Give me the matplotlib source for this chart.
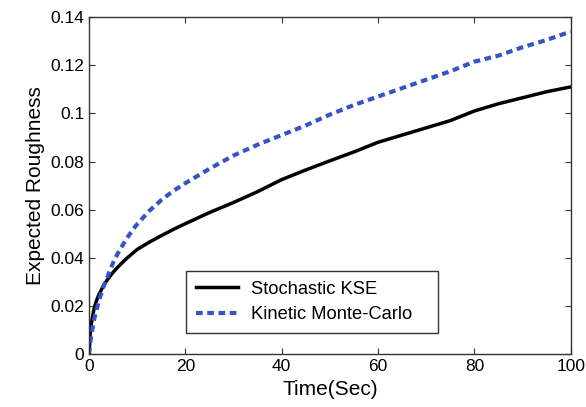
import matplotlib
matplotlib.use('Agg')
import matplotlib.pyplot as plt

# values
time = [0, 0.25, 0.5, 1, 1.5, 2, 3, 4, 5, 6, 7.5, 9, 10, 12.5, 15, 17.5, 20,
        25, 30, 35, 40, 45, 50, 55, 60, 65, 70, 75, 80, 85, 90, 95, 100]
kse = [0, 0.009, 0.013, 0.0185, 0.022, 0.0245, 0.0285, 0.0315, 0.034,
       0.0362, 0.0392, 0.0418, 0.0435, 0.0465, 0.0492, 0.0518, 0.0542,
       0.0588, 0.063, 0.0675, 0.0725, 0.0765, 0.0803, 0.084, 0.088, 0.091,
       0.094, 0.097, 0.101, 0.104, 0.1065, 0.109, 0.111]
kmc = [0, 0.005, 0.008, 0.014, 0.018, 0.022, 0.028, 0.033, 0.038, 0.042,
       0.047, 0.0515, 0.054, 0.0595, 0.064, 0.0678, 0.071, 0.077, 0.0825,
       0.087, 0.091, 0.095, 0.0995, 0.1035, 0.107, 0.1105, 0.114, 0.1175,
       0.1215, 0.124, 0.1275, 0.1305, 0.134]
xticks = [0, 20, 40, 60, 80, 100]
yticks = [0, 0.02, 0.04, 0.06, 0.08, 0.1, 0.12, 0.14]
ytick_labels = ['0', '0.02', '0.04', '0.06', '0.08', '0.1', '0.12', '0.14']

plt.rcParams['font.family'] = 'Liberation Sans'

fig = plt.figure(figsize=(5.86, 4.07), dpi=100)
ax = fig.add_axes([0.152, 0.130, 0.822, 0.828])

ax.plot(time, kse, color='black', lw=2.5, label='Stochastic KSE')
ax.plot(time, kmc, color='#3555c4', lw=3, linestyle=(0, (1.6, 1.1)),
        label='Kinetic Monte-Carlo')

ax.set_xlim(0, 100)
ax.set_ylim(0, 0.14)
ax.set_xticks(xticks)
ax.set_yticks(yticks)
ax.set_yticklabels(ytick_labels)
ax.tick_params(direction='in', top=True, right=True, labelsize=12.5, length=4,
               color='#333333')
for s in ax.spines.values():
    s.set_color('#333333')
    s.set_linewidth(1)

ax.set_xlabel('Time(Sec)', fontsize=15)
ax.set_ylabel('Expected Roughness', fontsize=15)

leg = ax.legend(loc='lower left', bbox_to_anchor=(0.201, 0.062, 0.523, 0.18),
                mode='expand', fontsize=13.2,
                fancybox=False, edgecolor='#333333', framealpha=1,
                handlelength=2.3, handletextpad=0.7, borderpad=0.55,
                labelspacing=0.45, borderaxespad=0)
leg.get_frame().set_linewidth(1)

fig.savefig('out.png', dpi=100)
